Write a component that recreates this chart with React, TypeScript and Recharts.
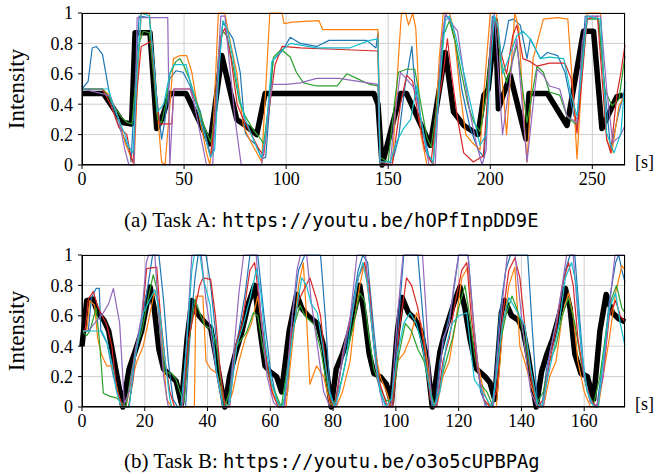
import React from 'react';
import { LineChart, Line, XAxis, YAxis, CartesianGrid } from 'recharts';

type Pt = [number, number];

// Task A (seconds, intensity)
const taskATicks = [0, 50, 100, 150, 200, 250];
const taskARef: Pt[] = [[0,0.47],[10.5,0.47],[20,0.28],[24.3,0.27],[26,0.87],[33.3,0.87],[36.6,0.24],[39,0.3],[43,0.47],[51,0.47],[62.7,0.14],[68.5,0.72],[75.8,0.3],[79,0.27],[85.6,0.2],[89.7,0.47],[143,0.47],[145,0.4],[147,0],[156,0.47],[159,0.47],[170.6,0.13],[178,0.74],[182,0.35],[187,0.26],[191.7,0.22],[194,0.2],[196.9,0.46],[199,0.5],[202.5,0.95],[204,0.37],[209.8,0.59],[217.5,0.17],[219,0.47],[228,0.47],[237.6,0.26],[245.7,0.88],[250.6,0.88],[254.7,0.24],[262,0.45],[265,0.46]];
const taskABlue: Pt[] = [[0,0.5],[3,0.55],[5,0.77],[7,0.78],[10,0.73],[12,0.58],[13,0.5],[14.5,0.39],[18.5,0.24],[21,0.17],[23.5,0.08],[24,0.02],[25.5,0.4],[28,0.98],[33,0.97],[36.5,0.46],[39,0.17],[40.5,0.28],[43,0.57],[46,0.62],[49.5,0.61],[53,0.52],[58,0.35],[61,0.17],[62.7,0.08],[64,0.08],[66,0.5],[69,0.94],[74,0.83],[77.5,0.61],[80,0.21],[82,0.17],[85.6,0.13],[88,0.04],[90,0.05],[93.6,0.69],[98,0.75],[102,0.84],[107,0.8],[115,0.78],[121,0.82],[139.5,0.82],[144,0.77],[145,0.87],[146,0],[152,0.02],[155,0.17],[158,0.5],[161.6,0.78],[163,0.54],[166,0.3],[170,0.05],[172,0],[175,0.6],[178,0.98],[180,0.97],[183,0.8],[186,0.5],[190,0.25],[194,0.1],[197,0.05],[199,0.5],[201,0.98],[203,0.95],[205,0.7],[207,0.8],[209,0.95],[211.4,0.96],[214.7,0.92],[218,0.7],[219.6,0.83],[224.5,0.7],[228,0.74],[233,0.72],[236.6,0.61],[241,0.32],[243,0.3],[246.5,0.98],[253,0.96],[256,0.52],[259,0.1],[262.5,0.32],[266,0.5]];
const taskAOrange: Pt[] = [[0,0.5],[10,0.5],[14,0.45],[18,0.3],[21,0.15],[24,0.05],[25.5,0],[27,0.5],[29,1],[33,1],[36,0.5],[39,0.02],[40.7,0],[42.5,0.3],[44.8,0.7],[48,0.72],[51.3,0.72],[53.8,0.61],[57,0.35],[61,0.08],[62.7,0],[64.5,0.3],[66.8,1],[70,1],[72,0.85],[75.8,0.61],[79,0.26],[82,0.17],[85.6,0.08],[88,0.02],[90,0.5],[92,1],[98,1],[99,0.93],[103,0.94],[116,0.95],[118,0.89],[145,0.89],[146,0],[152,0],[155,0.7],[156.5,1],[158.5,1],[160,0.92],[162,1],[163.5,0.9],[166,0.2],[169,0],[172,0],[175,0.7],[177,1],[180,1],[182,0.9],[185,0.5],[188,0.2],[191,0.15],[195,0.1],[197,0.5],[200,1],[203,1],[205,0.7],[208,0.2],[210,0.6],[212,1],[214,0.9],[216,0.4],[218,0.02],[221,0.7],[226,0.96],[233,0.97],[238,0.96],[241,0.39],[242.5,0.04],[245,0.6],[247.5,1],[254,1],[257,0.17],[259.6,0.08],[263,0.39],[266,0.46]];
const taskAGreen: Pt[] = [[0,0.5],[10,0.5],[13,0.45],[16,0.38],[19,0.32],[22,0.28],[24.5,0.27],[26,0.5],[28,0.8],[30,0.88],[33,0.87],[35,0.6],[37,0.3],[39,0.28],[41,0.4],[43,0.6],[46,0.68],[48,0.7],[50,0.65],[53,0.55],[56,0.42],[60,0.25],[63,0.15],[65,0.3],[67,0.75],[69,0.88],[71,0.85],[74,0.65],[77,0.42],[80,0.32],[84,0.23],[87,0.18],[89,0.14],[91,0.35],[93.8,0.71],[97.6,0.76],[102,0.71],[105,0.61],[108.5,0.54],[115,0.52],[125,0.52],[129.7,0.6],[134.6,0.57],[141,0.53],[145,0.52],[146,0.05],[150,0.02],[153,0.4],[155,0.61],[159,0.63],[163,0.63],[166,0.4],[169,0.18],[171,0.12],[174,0.4],[177,0.85],[180,0.95],[183,0.8],[186,0.6],[189,0.4],[192,0.28],[195,0.22],[198,0.45],[201,0.92],[203,0.95],[205,0.7],[208,0.54],[213,0.79],[218,0.28],[222.9,0.65],[226,0.61],[229,0.48],[234,0.46],[237.6,0.32],[242.5,0.26],[245,0.7],[247.5,0.96],[253,0.96],[256,0.5],[259.6,0.39],[263,0.43],[266,0.72]];
const taskARed: Pt[] = [[0,0.5],[10,0.5],[14,0.4],[18,0.25],[22,0.2],[24,0.05],[25,0.02],[27,0.5],[29,0.78],[32,0.8],[34,0.82],[36,0.5],[38,0.27],[44,0.27],[45,0.5],[53,0.5],[56,0.4],[60,0.2],[63,0.05],[65,0.3],[68,0.85],[70,0.9],[73,0.7],[76,0.4],[79,0.3],[83,0.2],[86,0.12],[89,0.06],[91,0.3],[94.6,0.66],[98,0.78],[107,0.77],[126.5,0.76],[145,0.75],[146,0.02],[152,0],[156,0.4],[159,0.59],[162,0.55],[165,0.3],[168,0.1],[171,0.02],[174,0.37],[177,0.61],[179,0.83],[181,0.6],[184,0.3],[187,0.08],[191.7,0.02],[196.6,0.06],[199,0.5],[201,0.9],[203,0.95],[205,0.75],[208,0.6],[211,0.85],[213,0.92],[216,0.7],[219.6,0.68],[222.9,0.65],[229,0.67],[236.6,0.67],[239.6,0.57],[242.5,0.21],[247.5,0.96],[252.5,0.98],[257,0.17],[259,0.08],[262,0.46],[264,0.61],[266,0.79]];
const taskAPurple: Pt[] = [[0,0.5],[10,0.47],[14,0.45],[18,0.3],[21,0.1],[23,0],[25.5,0],[27,0.97],[42,0.97],[43,0],[45,0.5],[53,0.5],[55,0.4],[58,0.2],[61,0],[64,0],[66,0.5],[68,0.98],[70,0.98],[72,0.7],[75,0.3],[78,0],[88,0],[90,0.2],[93,0.53],[100,0.53],[107,0.54],[115,0.57],[126,0.57],[140,0.54],[145,0.53],[146,0],[151,0],[153,0.3],[156,0.61],[160,0.55],[163,0.5],[166,0.3],[170,0],[173,0],[176,0.8],[178,1],[180,0.95],[184,0.88],[187,0.6],[190,0.35],[193,0.15],[196,0],[198,0.1],[200,0.8],[202,1],[204,0.6],[206,0.2],[208,0.39],[211,0.7],[213,0.83],[215,0.5],[218,0.02],[221,0.4],[223,0.63],[226,0.59],[229,0.52],[234,0.5],[237.6,0.32],[242.5,0.28],[245,0.8],[247.5,0.98],[254,0.98],[257,0.5],[260,0.15],[263.6,0.19],[266,0.26]];
const taskACyan: Pt[] = [[0,0.5],[13,0.5],[15,0.4],[18,0.3],[21,0.2],[23,0.12],[25,0.08],[27,0.6],[29,1],[33,0.98],[35,0.7],[37,0.35],[40,0.4],[43,0.6],[45,0.66],[51,0.66],[53,0.55],[56,0.4],[60,0.2],[63,0.05],[65,0.1],[67,0.6],[69,0.95],[71,0.9],[74,0.7],[77,0.45],[80,0.3],[83,0.2],[86,0.1],[88,0.05],[90,0.2],[93,0.68],[97.5,0.75],[102,0.8],[115,0.77],[131,0.77],[141,0.82],[145,0.83],[146,0.02],[151,0.02],[154,0.15],[157.5,0.24],[161,0.3],[164,0.52],[166,0.3],[169,0.08],[172,0.02],[175,0.5],[178,0.95],[180,0.98],[183,0.85],[187,0.61],[191.7,0.32],[195,0.13],[198,0.2],[200,0.6],[202,0.98],[204,0.9],[206,0.6],[209,0.7],[213,0.85],[216,0.88],[219.6,0.83],[224.5,0.7],[229,0.71],[236,0.7],[239.6,0.46],[242.5,0.32],[247.5,0.98],[254,0.96],[257,0.21],[260.6,0.08],[264,0.21],[266,0.55]];

// Task B
const taskBTicks = [0, 20, 40, 60, 80, 100, 120, 140, 160];
const taskBRef: Pt[] = [[0,0.4],[1.5,0.7],[3.5,0.71],[5,0.62],[7,0.57],[8.5,0.5],[11,0.22],[13,0],[15,0.25],[17,0.37],[19,0.5],[21.7,0.79],[23,0.65],[24.5,0.38],[26,0.25],[28,0.21],[30,0.17],[31.7,0.02],[33.5,0.45],[35,0.7],[36.5,0.62],[39,0.56],[41,0.52],[42.5,0.35],[45.5,0],[47,0.2],[49,0.36],[51,0.5],[53,0.68],[55,0.8],[56.7,0.51],[58.3,0.27],[60,0.23],[62,0.2],[63.6,0.1],[66,0.5],[68.4,0.74],[70,0.65],[72,0.6],[75,0.55],[77,0.4],[79.4,0],[81,0.25],[83,0.35],[85,0.48],[87,0.65],[88.5,0.8],[90,0.6],[91.5,0.35],[93,0.22],[95,0.2],[97,0.15],[98.6,0.03],[100.5,0.5],[102,0.72],[104,0.62],[106,0.58],[108,0.5],[110,0.3],[111.6,0],[114,0.36],[116,0.52],[118.3,0.67],[120.4,0.79],[122,0.65],[123.6,0.45],[125.7,0.25],[128.4,0.2],[130,0.16],[131.5,0.05],[133.6,0.62],[134.7,0.7],[136.9,0.6],[139,0.57],[140.5,0.51],[142.1,0.34],[144.7,0],[146.4,0.23],[148,0.34],[150,0.45],[152,0.6],[154,0.78],[155.5,0.65],[157,0.35],[159,0.22],[161,0.2],[163,0.05],[165,0.5],[167,0.74],[169,0.62],[171,0.58],[173,0.56]];
const taskBBlue: Pt[] = [[0,0.5],[2,0.5],[3,0.72],[4.5,0.78],[5.5,0.78],[6,0.5],[8,0.42],[10,0.2],[12,0.05],[13.5,0],[15,0],[17,0.35],[19,0.55],[21,0.8],[22.5,1],[24.5,1],[26,0.7],[27.5,0.3],[29,0.05],[30.5,0],[33,0],[34.5,0.5],[36,0.85],[37,1],[39.5,1],[41,0.8],[43,0.4],[45,0.05],[46.5,0],[48,0.3],[50,0.5],[52,0.75],[53.5,1],[56,1],[58,0.6],[60,0.25],[62,0.05],[63.5,0],[65.5,0.1],[67,0.6],[69,0.9],[71,1],[76,1],[77.5,0.6],[79,0.1],[80.5,0],[82,0.2],[84,0.4],[86,0.65],[88,0.9],[89.5,1],[91,0.95],[93,0.5],[95,0.1],[97,0],[99,0],[101,0.6],[102.5,1],[107,1],[109,0.5],[111,0.05],[112.5,0],[114,0.3],[116,0.5],[118,0.7],[120,1],[123,1],[125,0.5],[127,0.1],[129,0],[131,0],[133,0.6],[135,0.9],[136.5,1],[142,1],[143.5,0.5],[145,0.05],[146.5,0],[148,0.25],[150,0.45],[152,0.65],[154,0.9],[155.5,1],[157,1],[158.5,0.6],[160,0.2],[162,0.03],[164,0],[166,0.3],[168,0.7],[170,0.95],[171,1],[172,0.9],[173,0.82]];
const taskBOrange: Pt[] = [[0,0.5],[1.5,0.5],[2.5,0.7],[4,0.67],[5,0.45],[6.3,0.34],[7.9,0.27],[9.5,0.27],[11,0.14],[12.5,0],[14,0],[15.5,0.15],[17.5,0.3],[19.5,0.4],[21,0.55],[23,0.75],[24.5,0.7],[26,0.3],[27,0.05],[28.5,0],[32.3,0],[35.8,0],[36.3,0.73],[38.5,0.73],[39.5,0.3],[41,0.25],[43,0.22],[45,0.05],[46.5,0],[48,0.1],[50,0.3],[52,0.45],[54,0.55],[56,0.73],[57.5,0.5],[59,0.25],[61,0.08],[63,0],[65,0],[67,0.4],[69,0.8],[70.5,0.95],[71.5,0.6],[72.6,0.15],[74.7,0.27],[77,0.2],[79,0.02],[81,0],[83,0.1],[85.4,0.3],[87,0.6],[88.5,0.8],[90,0.95],[91.5,0.7],[93,0.4],[95,0.2],[97,0.1],[98.5,0],[100.5,0.3],[102.5,0.35],[104.5,0.45],[106.6,0.62],[108,0.55],[110,0.3],[111.5,0.05],[113,0],[115,0.2],[117,0.3],[119,0.55],[121,0.85],[123,0.92],[124.5,0.6],[126,0.3],[128,0.1],[130,0],[132,0],[134,0.5],[136,0.8],[137.9,0.92],[139.5,0.4],[141,0.3],[143,0.15],[145,0.02],[147,0],[149,0.2],[151,0.3],[153,0.6],[155,0.75],[156.5,0.6],[158,0.3],[160,0.1],[162,0],[164.5,0],[166,0.2],[168,0.45],[170,0.75],[172,0.93],[173,0.9]];
const taskBGreen: Pt[] = [[0,0.5],[1.5,0.47],[2.5,0.5],[4.5,0.65],[5.5,0.45],[6.8,0.09],[9,0.07],[11,0.06],[12.6,0.03],[14,0],[15.5,0.2],[17.4,0.4],[19,0.49],[21,0.71],[22.7,0.87],[23.8,0.78],[25,0.45],[26.4,0.23],[28.6,0.22],[30,0.18],[31.5,0.08],[32.5,0.03],[33.9,0.4],[36,0.71],[37.5,0.62],[39,0.54],[41.3,0.51],[42.9,0.4],[44,0.2],[45.5,0],[47,0.1],[49.3,0.4],[52.4,0.49],[54.6,0.62],[56,0.6],[57.5,0.4],[59.5,0.2],[61.5,0.1],[63.5,0],[65,0.2],[67,0.5],[69.5,0.67],[71,0.6],[74,0.54],[76,0.38],[78,0.15],[79.5,0.02],[81,0.05],[83,0.2],[85,0.4],[87,0.6],[88.5,0.75],[90,0.7],[91.5,0.45],[93,0.25],[95,0.12],[97,0.04],[99,0.05],[101,0.35],[103,0.55],[105,0.5],[107,0.38],[109,0.3],[111,0.1],[112.5,0],[114,0.15],[116,0.3],[118,0.45],[120,0.65],[122,0.8],[123.5,0.6],[125,0.35],[127,0.15],[129,0.1],[131,0],[133,0.4],[135,0.6],[137,0.73],[139,0.62],[141,0.45],[143,0.2],[145,0.03],[147,0.1],[149,0.3],[151,0.4],[153,0.6],[155,0.72],[157,0.55],[159,0.3],[161,0.1],[163,0.02],[165,0.2],[167,0.5],[168.5,0.7],[170.3,0.8],[172,0.65],[173,0.62]];
const taskBRed: Pt[] = [[0,0.5],[1,0.5],[2,0.71],[3.6,0.76],[5,0.66],[7.9,0.54],[9.5,0.4],[11,0.12],[13,0],[14.8,0],[16.3,0.18],[17.4,0.4],[19,0.55],[20.6,0.91],[23.8,0.92],[25,0.6],[26.5,0.3],[28,0.1],[29.5,0],[32,0],[34,0.45],[36,0.65],[37.5,0.8],[38.6,0.85],[41,0.84],[42.5,0.6],[44,0.25],[45.5,0],[47,0],[49,0.4],[51,0.55],[53.5,0.9],[55,0.95],[56.5,0.7],[58.5,0.35],[60.5,0.1],[62.5,0],[64.5,0],[66.5,0.45],[69,0.7],[72.6,0.85],[74.7,0.71],[76,0.6],[77.5,0.3],[79,0.05],[80.5,0],[82,0.2],[84,0.45],[86,0.6],[88,0.85],[90,0.95],[91.5,0.8],[93,0.4],[95,0.15],[97,0.02],[99,0],[101,0.5],[103.4,0.85],[105,0.8],[107,0.65],[109,0.4],[111,0.05],[113,0],[115,0.3],[117,0.45],[119,0.7],[121,0.9],[122.6,0.95],[124,0.6],[126,0.25],[128,0.05],[130,0],[132,0.1],[134,0.6],[136,0.9],[137.9,0.98],[139.5,0.85],[141,0.55],[143,0.2],[145,0],[147,0.05],[149,0.3],[151,0.5],[153,0.8],[155,0.95],[156.5,0.8],[158,0.45],[160,0.2],[162,0.05],[164,0],[166,0.2],[168,0.6],[170,0.7],[171.5,0.6],[173,0.56]];
const taskBPurple: Pt[] = [[0,0.5],[2,0.5],[4,0.55],[6.8,0.62],[8.5,0.68],[10,0.78],[12,0.55],[13.5,0.02],[15,0.1],[17,0.38],[19,0.6],[20.5,0.95],[21.2,1],[23.2,1],[24.5,0.6],[26,0.2],[27.5,0],[32,0],[33.5,0.5],[35,1],[38,1],[39.5,0.7],[41,0.5],[43,0.2],[45,0],[47,0],[48.5,0.4],[50,0.75],[51.5,1],[55.5,1],[57,0.6],[59,0.2],[61,0.03],[62.5,0],[64.5,0],[66.5,0.5],[68.5,0.9],[69.6,1],[71.6,1],[73,0.7],[75,0.4],[77,0.1],[79,0],[81,0],[83,0.35],[85.5,0.6],[87.6,1],[90.3,1],[92,0.6],[94,0.2],[96,0],[98.5,0],[100.5,0.6],[102.3,1],[108.5,1],[110,0.5],[111.5,0],[113,0],[115,0.45],[117,0.55],[118.5,0.8],[120,1],[123,1],[124.5,0.6],[126.5,0.2],[128.5,0],[131,0],[133,0.5],[135.5,1],[138,1],[139.5,0.7],[141,0.4],[143,0.1],[145,0],[147,0],[149,0.35],[151,0.55],[153,0.8],[154.4,1],[156.5,1],[158,0.6],[160,0.2],[162,0.03],[164,0],[166,0.2],[168,0.65],[169.8,1],[173,1]];
const taskBCyan: Pt[] = [[0,0.5],[6.3,0.5],[7.9,0.43],[9.5,0.29],[11,0.1],[12.5,0],[15,0],[16.9,0.32],[19.5,0.62],[21.7,0.71],[23.2,0.77],[24.8,0.62],[26.5,0.3],[28,0.05],[28.6,0],[31.5,0],[33.3,0.4],[35,0.9],[35.8,1],[37.6,1],[38.6,0.85],[40.8,0.67],[42.9,0.23],[45,0],[47,0.02],[49.3,0.4],[51.5,0.55],[53.5,0.71],[55.6,0.91],[57,0.75],[58.5,0.4],[60.5,0.15],[62.5,0.02],[64,0],[66,0.3],[68,0.6],[70,0.85],[71.5,0.8],[73,0.68],[75,0.62],[77,0.35],[79,0.08],[80.5,0],[82,0.1],[84,0.3],[86,0.6],[88,0.85],[89.5,0.95],[91,0.8],[93,0.4],[95,0.1],[96.8,0],[98.5,0.05],[100.5,0.35],[102.5,0.55],[104.5,0.62],[106.5,0.55],[108.5,0.4],[110.5,0.15],[112,0],[114,0.1],[116,0.4],[118,0.55],[120,0.6],[122.6,0.62],[124,0.35],[125,0.18],[127,0.12],[129,0.05],[130.5,0],[132,0.2],[134,0.55],[136,0.72],[138,0.65],[141,0.54],[143,0.25],[145,0.02],[146.5,0],[148,0.15],[150,0.35],[152,0.55],[154,0.85],[156,0.95],[157.5,0.8],[159,0.4],[161,0.1],[163,0],[164.5,0],[166,0.3],[168,0.65],[170,0.75],[171.5,0.55],[173,0.4]];

const yTicks = [0, 0.2, 0.4, 0.6, 0.8, 1];

const SERIF = '"Liberation Serif", "Times New Roman", serif';
const MONO = '"DejaVu Sans Mono", "Liberation Mono", monospace';

const toPts = (a: Pt[]) => a.map(([t, v]) => ({ t, v }));

interface PanelProps {
  top: number;
  xMax: number;
  xTicks: number[];
  series: { data: Pt[]; color: string; width: number }[];
}

const Panel: React.FC<PanelProps> = ({ top, xMax, xTicks, series }) => {
  const tickStyle = { fontFamily: SERIF, fontSize: 18, fill: '#000' };
  return (
    <div style={{ position: 'absolute', left: 0, top, width: 657, height: 200 }}>
      <LineChart width={657} height={200} margin={{ top: 13, right: 32, bottom: 5, left: 0 }}>
        <CartesianGrid stroke="#cfcfcf" strokeWidth={1} />
        <XAxis
          dataKey="t"
          type="number"
          domain={[0, xMax]}
          ticks={xTicks}
          allowDuplicatedCategory={false}
          tick={tickStyle}
          tickSize={4}
          tickMargin={3}
          stroke="#000"
          height={30}
        />
        <YAxis
          type="number"
          domain={[0, 1]}
          ticks={yTicks}
          tickFormatter={(v: number) => String(Number(v.toFixed(1)))}
          tick={tickStyle}
          tickSize={4}
          tickMargin={5}
          stroke="#000"
          width={82}
        />
        {series.map((s, i) => (
          <Line
            key={i}
            data={toPts(s.data)}
            dataKey="v"
            type="linear"
            stroke={s.color}
            strokeWidth={s.width}
            strokeLinejoin="round"
            dot={false}
            activeDot={false}
            isAnimationActive={false}
          />
        ))}
      </LineChart>
      <div style={{ position: 'absolute', left: 82, top: 13, width: 543, height: 152, border: '1px solid #000', boxSizing: 'border-box', pointerEvents: 'none' }} />
      <div style={{ position: 'absolute', left: 17, top: 89, transform: 'translate(-50%, -50%) rotate(-90deg)', fontFamily: SERIF, fontSize: 23, whiteSpace: 'nowrap' }}>Intensity</div>
      <div style={{ position: 'absolute', left: 635, top: 152, fontFamily: SERIF, fontSize: 18 }}>[s]</div>
    </div>
  );
};

const colorsOf = (ref: Pt[], blue: Pt[], orange: Pt[], green: Pt[], red: Pt[], purple: Pt[], cyan: Pt[]) => [
  { data: ref, color: '#000000', width: 5.5 },
  { data: blue, color: '#1f77b4', width: 1.2 },
  { data: orange, color: '#ff7f0e', width: 1.2 },
  { data: green, color: '#2ca02c', width: 1.2 },
  { data: red, color: '#d62728', width: 1.2 },
  { data: purple, color: '#9467bd', width: 1.2 },
  { data: cyan, color: '#17becf', width: 1.2 },
];

const Caption: React.FC<{ top: number; prefix: string; url: string }> = ({ top, prefix, url }) => (
  <div style={{ position: 'absolute', left: 124, top, fontFamily: SERIF, fontSize: 21, whiteSpace: 'nowrap' }}>
    {prefix}<span style={{ fontFamily: MONO, fontSize: 18.8 }}>{url}</span>
  </div>
);

export default function App() {
  return (
    <div style={{ position: 'absolute', left: 0, top: 0, width: 657, height: 476, background: '#fff' }}>
      <Panel
        top={0}
        xMax={266}
        xTicks={taskATicks}
        series={colorsOf(taskARef, taskABlue, taskAOrange, taskAGreen, taskARed, taskAPurple, taskACyan)}
      />
      <Caption top={208} prefix="(a) Task A: " url="https://youtu.be/hOPfInpDD9E" />
      <Panel
        top={242}
        xMax={173}
        xTicks={taskBTicks}
        series={colorsOf(taskBRef, taskBBlue, taskBOrange, taskBGreen, taskBRed, taskBPurple, taskBCyan)}
      />
      <Caption top={449} prefix="(b) Task B: " url="https://youtu.be/o3o5cUPBPAg" />
    </div>
  );
}
